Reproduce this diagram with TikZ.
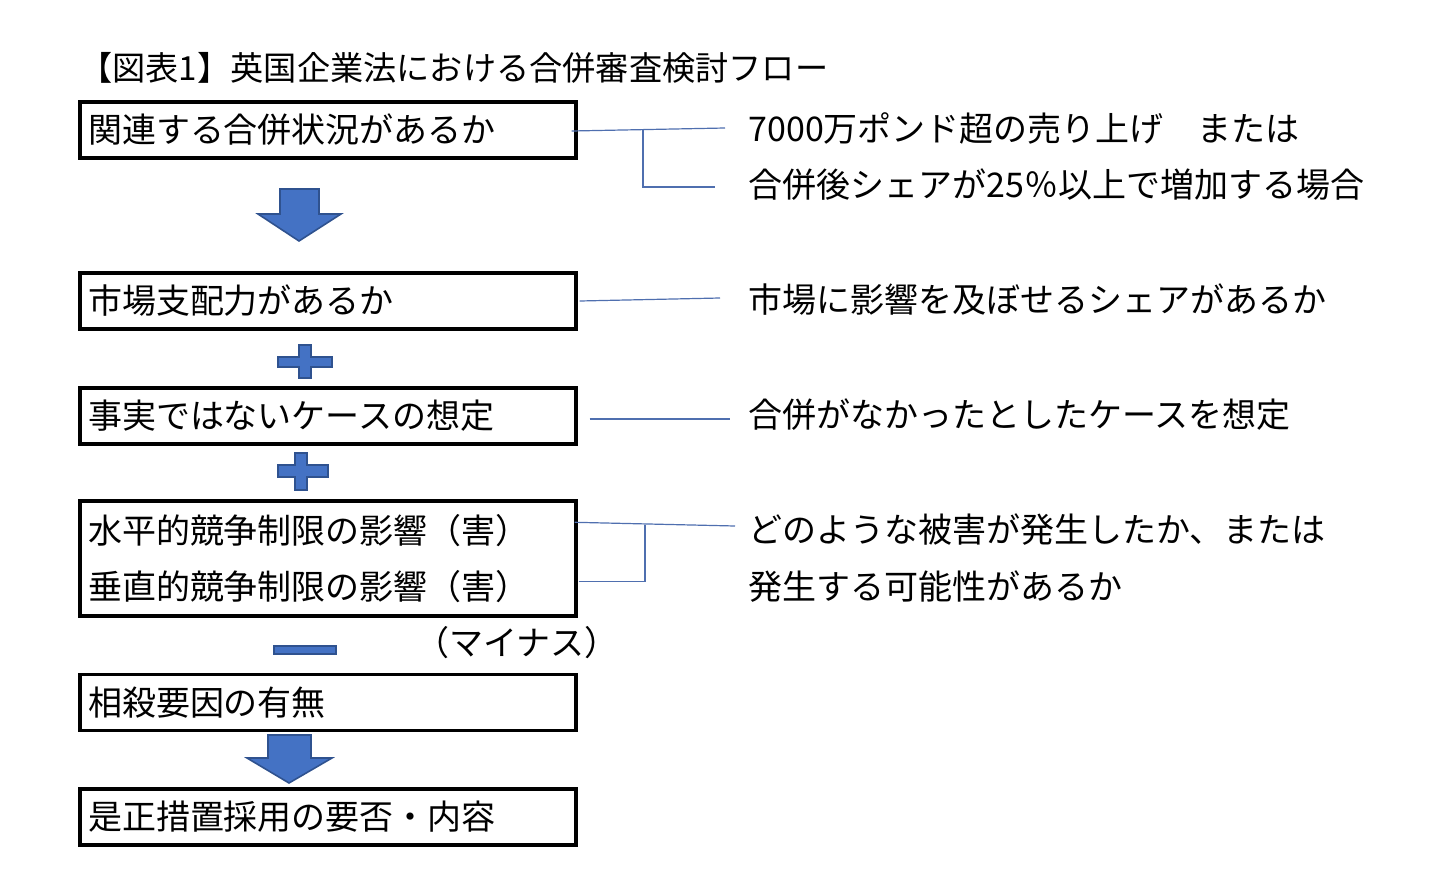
\documentclass[tikz,border=0pt]{standalone}
\usepackage{fontspec}
\setmainfont{Noto Sans CJK JP}
\usetikzlibrary{positioning,calc}
\definecolor{FlowBlue}{HTML}{4472C4}
\definecolor{FlowBlueDark}{HTML}{2F528F}
\definecolor{LinkBlue}{HTML}{4F6FAF}

\begin{document}
\begin{tikzpicture}[x=0.5pt,y=-0.5pt,
    every node/.style={font=\fontsize{17}{28}\selectfont},
    box/.style={draw=black,line width=1.7pt,text width=240pt,align=left,inner xsep=4pt,inner ysep=0pt,minimum height=28pt},
    note/.style={anchor=west,inner sep=0pt},
    link/.style={draw=LinkBlue,line width=0.6pt},
    blockarrow/.style={fill=FlowBlue,draw=FlowBlueDark,line width=0.8pt,line join=miter}
  ]
  \useasboundingbox (0,0) rectangle (1431,894);
  \node[note,font=\fontsize{16.6}{20}\selectfont] (title) at (79,68) {【図表1】英国企業法における合併審査検討フロー};

  % flow boxes
  \node[box] (b1) at (328,130) {関連する合併状況があるか};
  \node[box] (b2) at (328,301) {市場支配力があるか};
  \node[box] (b3) at (328,416) {事実ではないケースの想定};
  \node[box,minimum height=57.5pt] (b4) at (328,558.5) {水平的競争制限の影響（害）\\垂直的競争制限の影響（害）};
  \node[box] (b5) at (328,702.5) {相殺要因の有無};
  \node[box] (b6) at (328,817) {是正措置採用の要否・内容};

  % notes on the right
  \node[note] (n1a) at (748,128) {7000万ポンド超の売り上げ　または};
  \node[note] (n1b) at (748,185) {合併後シェアが25％以上で増加する場合};
  \node[note] (n2) at (748,300) {市場に影響を及ぼせるシェアがあるか};
  \node[note] (n3) at (748,415) {合併がなかったとしたケースを想定};
  \node[note] (n4a) at (748,530) {どのような被害が発生したか、または};
  \node[note] (n4b) at (748,587) {発生する可能性があるか};
  \node (minus) at (517,643) {（マイナス）};

  % links
  \coordinate (j1) at (643,129);
  \draw[link] ($(b1.east)+(-6,1)$) -- ($(n1a.west)+(-23,0)$);
  \draw[link] (j1) |- ($(n1b.west)+(-33,2)$);
  \draw[link] ($(b2.east)+(2,0)$) -- ($(n2.west)+(-28,-2)$);
  \draw[link] ($(b3.east)+(12,3)$) -- ($(n3.west)+(-18,4)$);
  \coordinate (j4) at (645,525);
  \draw[link] ($(b4.north east)+(-3,23)$) -- ($(n4a.west)+(-13,-4)$);
  \draw[link] ($(b4.south east)+(1,-36)$) -| (j4);

  % arrows and signs
  \draw[blockarrow] (280,189) -- (319,189) -- (319,214) -- (341,214) -- (299,241) -- (258,214) -- (280,214) -- cycle;
  \draw[blockarrow] (299,345) -- (311,345) -- (311,357) -- (332,357) -- (332,367) -- (311,367) -- (311,378) -- (299,378) -- (299,367) -- (278,367) -- (278,357) -- (299,357) -- cycle;
  \draw[blockarrow] (295,453) -- (307,453) -- (307,465) -- (328,465) -- (328,477) -- (307,477) -- (307,490) -- (295,490) -- (295,477) -- (278,477) -- (278,465) -- (295,465) -- cycle;
  \draw[blockarrow] (274,646) rectangle (336,654);
  \draw[blockarrow] (268,735) -- (311,735) -- (311,758) -- (332,758) -- (289,783) -- (247,758) -- (268,758) -- cycle;
\end{tikzpicture}
\end{document}
